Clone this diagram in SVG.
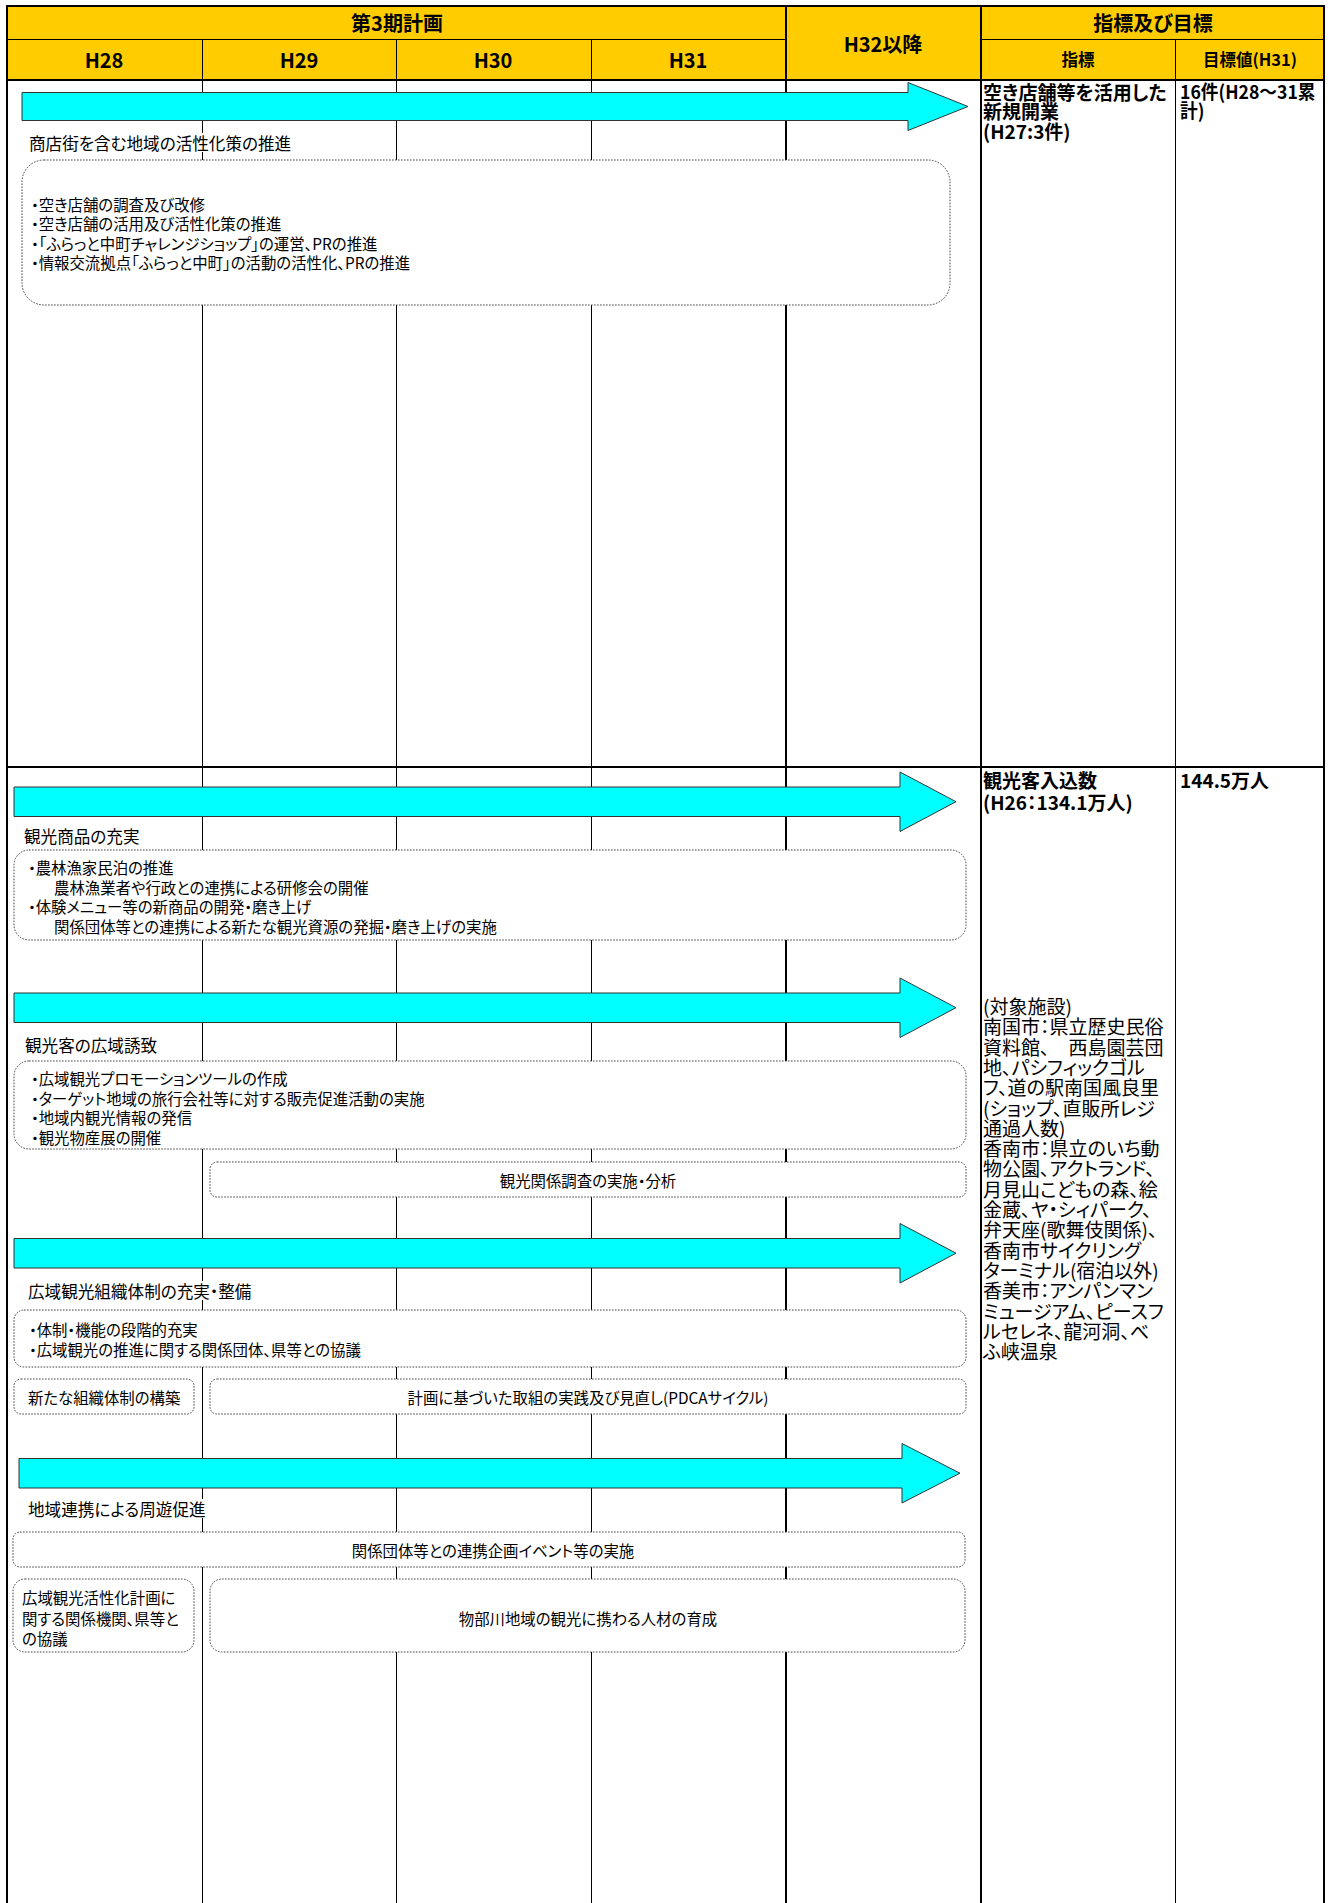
<svg xmlns="http://www.w3.org/2000/svg" width="1333" height="1903" viewBox="0 0 1333 1903">
<style>
text{font-family:"Noto Sans CJK JP","Noto Sans",sans-serif;fill:#000;dominant-baseline:central;font-feature-settings:"palt" 1;}
.hd{font-size:20px;font-weight:bold;text-anchor:middle;}
.hs{font-size:16.5px;font-weight:bold;text-anchor:middle;}
.ind{font-size:19px;font-weight:bold;}
.obj{font-size:19px;}
.lbl{font-size:16.6px;}
.bx{font-size:15.4px;}
.c{text-anchor:middle;}
.arrow{fill:#00FFFF;stroke:#333;stroke-width:1;}
.box{fill:#fff;stroke:#444;stroke-width:1;stroke-dasharray:1.6 1.4;}
.thin{stroke:#000;stroke-width:1;fill:none;}
.thick{stroke:#000;stroke-width:2;fill:none;}
.lb{fill:#fff;}
</style>
<rect x="0" y="0" width="1333" height="1903" fill="#fff"/>
<g id="header">
<rect x="7" y="6" width="1317" height="74" fill="#FFCC00"/>
<line class="thin" x1="7" y1="39.5" x2="786" y2="39.5"/>
<line class="thin" x1="981" y1="39.5" x2="1324" y2="39.5"/>
<line class="thin" x1="202.5" y1="39" x2="202.5" y2="80"/>
<line class="thin" x1="396.5" y1="39" x2="396.5" y2="80"/>
<line class="thin" x1="591.5" y1="39" x2="591.5" y2="80"/>
<line class="thin" x1="1175.5" y1="39" x2="1175.5" y2="80"/>
<line class="thick" x1="786" y1="6" x2="786" y2="80"/>
<line class="thick" x1="981" y1="6" x2="981" y2="80"/>
<text class="hd" x="397" y="22">第3期計画</text>
<text class="hd" x="883" y="43">H32以降</text>
<text class="hd" x="1153" y="22">指標及び目標</text>
<text class="hd" x="104" y="59">H28</text>
<text class="hd" x="299" y="59">H29</text>
<text class="hd" x="493" y="59">H30</text>
<text class="hd" x="688" y="59">H31</text>
<text class="hs" x="1078" y="59">指標</text>
<text class="hs" x="1250" y="59">目標値(H31)</text>
</g>
<g id="grid">
<line class="thin" x1="202.5" y1="80" x2="202.5" y2="1903"/>
<line class="thin" x1="396.5" y1="80" x2="396.5" y2="1903"/>
<line class="thin" x1="591.5" y1="80" x2="591.5" y2="1903"/>
<line class="thick" x1="786" y1="80" x2="786" y2="1903"/>
<line class="thick" x1="981" y1="80" x2="981" y2="1903"/>
<line class="thin" x1="1175.5" y1="80" x2="1175.5" y2="1903"/>
<line stroke="#000" stroke-width="2" x1="7" y1="767" x2="1324" y2="767"/>
<line class="thick" x1="7" y1="6" x2="7" y2="1903"/>
<line class="thick" x1="1324" y1="6" x2="1324" y2="1903"/>
<line class="thick" x1="6" y1="6" x2="1325" y2="6"/>
<line class="thick" x1="7" y1="80" x2="1324" y2="80"/>
</g>
<g id="connectors">
<polygon class="arrow" points="22,92.5 908,92.5 908,82.5 968,106.5 908,130.5 908,120.5 22,120.5"/>
<polygon class="arrow" points="14,787 900,787 900,772 956,801.7 900,831.5 900,816.5 14,816.5"/>
<polygon class="arrow" points="14,993 900,993 900,978 956,1007.7 900,1037.5 900,1022.5 14,1022.5"/>
<polygon class="arrow" points="14,1238.5 900,1238.5 900,1223.5 956,1253.2 900,1283 900,1268 14,1268"/>
<polygon class="arrow" points="19,1458.5 902,1458.5 902,1443.5 960,1473.2 902,1503 902,1488 19,1488"/>
</g>
<g id="section1">
<g id="label1"><rect class="lb" x="26" y="133" width="274" height="19"/><text class="lbl" x="29" y="142.5">商店街を含む地域の活性化策の推進</text></g>
<g id="box1"><rect class="box" x="22" y="160" width="928" height="145" rx="22"/>
<text class="bx"><tspan x="31" y="204">・空き店舗の調査及び改修</tspan><tspan x="31" y="223.4">・空き店舗の活用及び活性化策の推進</tspan><tspan x="31" y="242.8">・「ふらっと中町チャレンジショップ」の運営、PRの推進</tspan><tspan x="31" y="262.2">・情報交流拠点「ふらっと中町」の活動の活性化、PRの推進</tspan></text></g>
<g id="indicator1"><text class="ind"><tspan x="983" y="90.8">空き店舗等を活用した</tspan><tspan x="983" y="110">新規開業</tspan><tspan x="983" y="130">(H27:3件)</tspan></text></g>
<g id="target1"><text class="ind" transform="translate(1180,0) scale(0.93,1)"><tspan x="0" y="90.8">16件(H28～31累</tspan><tspan x="0" y="110">計)</tspan></text></g>
</g>
<g id="section2">
<g id="label2"><rect class="lb" x="21" y="826" width="122" height="19"/><text class="lbl" x="24" y="835.5">観光商品の充実</text></g>
<g id="box2"><rect class="box" x="14" y="850" width="952" height="90" rx="15"/>
<text class="bx"><tspan x="28" y="867">・農林漁家民泊の推進</tspan><tspan x="54" y="886.5">農林漁業者や行政との連携による研修会の開催</tspan><tspan x="28" y="906">・体験メニュー等の新商品の開発・磨き上げ</tspan><tspan x="54" y="925.5">関係団体等との連携による新たな観光資源の発掘・磨き上げの実施</tspan></text></g>
<g id="label3"><rect class="lb" x="22" y="1035" width="139" height="19"/><text class="lbl" x="25" y="1044.5">観光客の広域誘致</text></g>
<g id="box3"><rect class="box" x="14" y="1061" width="952" height="88" rx="15"/>
<text class="bx"><tspan x="31" y="1078">・広域観光プロモーションツールの作成</tspan><tspan x="31" y="1097.5">・ターゲット地域の旅行会社等に対する販売促進活動の実施</tspan><tspan x="31" y="1117">・地域内観光情報の発信</tspan><tspan x="31" y="1136.5">・観光物産展の開催</tspan></text></g>
<g id="box4"><rect class="box" x="210" y="1162" width="756" height="35" rx="7"/>
<text class="bx c" x="588" y="1180">観光関係調査の実施・分析</text></g>
<g id="label4"><rect class="lb" x="25" y="1281" width="238" height="19"/><text class="lbl" x="28" y="1290.5">広域観光組織体制の充実・整備</text></g>
<g id="box5"><rect class="box" x="14" y="1310" width="952" height="57" rx="10"/>
<text class="bx"><tspan x="29" y="1329">・体制・機能の段階的充実</tspan><tspan x="29" y="1349">・広域観光の推進に関する関係団体、県等との協議</tspan></text></g>
<g id="box6"><rect class="box" x="14" y="1379" width="180" height="35" rx="7"/>
<text class="bx" x="28" y="1397">新たな組織体制の構築</text></g>
<g id="box7"><rect class="box" x="210" y="1379" width="756" height="35" rx="7"/>
<text class="bx c" x="588" y="1397">計画に基づいた取組の実践及び見直し(PDCAサイクル)</text></g>
<g id="label5"><rect class="lb" x="25" y="1499" width="188" height="19"/><text class="lbl" x="28" y="1508.5">地域連携による周遊促進</text></g>
<g id="box8"><rect class="box" x="13" y="1532" width="952" height="35" rx="7"/>
<text class="bx c" x="493" y="1550">関係団体等との連携企画イベント等の実施</text></g>
<g id="box9"><rect class="box" x="13" y="1579" width="181" height="73" rx="12"/>
<text class="bx"><tspan x="22" y="1597">広域観光活性化計画に</tspan><tspan x="22" y="1617.5">関する関係機関、県等と</tspan><tspan x="22" y="1638">の協議</tspan></text></g>
<g id="box10"><rect class="box" x="210" y="1579" width="755" height="73" rx="12"/>
<text class="bx c" x="588" y="1618">物部川地域の観光に携わる人材の育成</text></g>
<g id="indicator2"><text class="ind"><tspan x="983" y="779">観光客入込数</tspan><tspan x="983" y="801">(H26：134.1万人)</tspan></text></g>
<g id="target2"><text class="ind" x="1180" y="779">144.5万人</text></g>
<g id="facilities">
<text class="obj"><tspan x="983" y="1005">(対象施設)</tspan><tspan x="983" y="1025.3">南国市：県立歴史民俗</tspan><tspan x="983" y="1045.6">資料館、　西島園芸団</tspan><tspan x="983" y="1065.9">地、パシフィックゴル</tspan><tspan x="983" y="1086.2">フ、道の駅南国風良里</tspan><tspan x="983" y="1106.5">(ショップ、直販所レジ</tspan><tspan x="983" y="1126.8">通過人数)</tspan><tspan x="983" y="1147.1">香南市：県立のいち動</tspan><tspan x="983" y="1167.4">物公園、アクトランド、</tspan><tspan x="983" y="1187.7">月見山こどもの森、絵</tspan><tspan x="983" y="1208">金蔵、ヤ・シィパーク、</tspan><tspan x="983" y="1228.3">弁天座(歌舞伎関係)、</tspan><tspan x="983" y="1248.6">香南市サイクリング</tspan><tspan x="983" y="1268.9">ターミナル(宿泊以外)</tspan><tspan x="983" y="1289.2">香美市：アンパンマン</tspan><tspan x="983" y="1309.5">ミュージアム、ピースフ</tspan><tspan x="983" y="1329.8">ルセレネ、龍河洞、べ</tspan><tspan x="983" y="1350.1">ふ峡温泉</tspan></text>
</g>
</g>
</svg>
